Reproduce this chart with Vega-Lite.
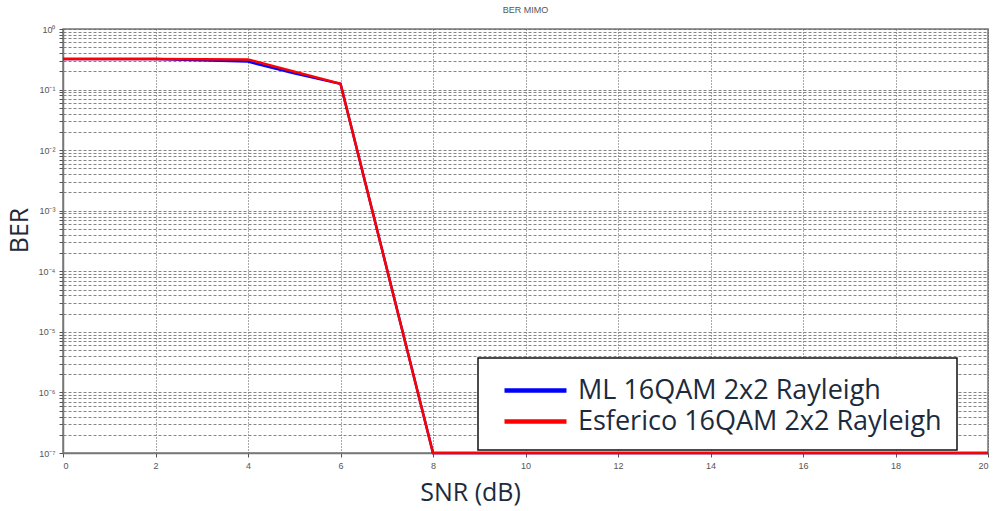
{
  "$schema": "https://vega.github.io/schema/vega-lite/v6.json",
  "width": 925,
  "height": 424,
  "autosize": {"type": "none"},
  "padding": {"left": 63, "top": 29, "right": 9, "bottom": 58},
  "background": "white",
  "title": {"text": "BER  MIMO", "fontSize": 9, "font": "Liberation Sans", "color": "#555", "fontWeight": "normal", "offset": 10},
  "config": {"view": {"stroke": "#777", "strokeWidth": 1.5}},
  "data": {"values": [
    {"series": "ML 16QAM 2x2 Rayleigh", "snr": 0, "ber": 0.32},
    {"series": "ML 16QAM 2x2 Rayleigh", "snr": 2, "ber": 0.32},
    {"series": "ML 16QAM 2x2 Rayleigh", "snr": 3, "ber": 0.305},
    {"series": "ML 16QAM 2x2 Rayleigh", "snr": 4, "ber": 0.29},
    {"series": "ML 16QAM 2x2 Rayleigh", "snr": 5, "ber": 0.185},
    {"series": "ML 16QAM 2x2 Rayleigh", "snr": 6, "ber": 0.125},
    {"series": "ML 16QAM 2x2 Rayleigh", "snr": 8, "ber": 1e-7},
    {"series": "ML 16QAM 2x2 Rayleigh", "snr": 10, "ber": 1e-7},
    {"series": "ML 16QAM 2x2 Rayleigh", "snr": 12, "ber": 1e-7},
    {"series": "ML 16QAM 2x2 Rayleigh", "snr": 14, "ber": 1e-7},
    {"series": "ML 16QAM 2x2 Rayleigh", "snr": 16, "ber": 1e-7},
    {"series": "ML 16QAM 2x2 Rayleigh", "snr": 18, "ber": 1e-7},
    {"series": "ML 16QAM 2x2 Rayleigh", "snr": 20, "ber": 1e-7},
    {"series": "Esferico 16QAM 2x2 Rayleigh", "snr": 0, "ber": 0.32},
    {"series": "Esferico 16QAM 2x2 Rayleigh", "snr": 2, "ber": 0.32},
    {"series": "Esferico 16QAM 2x2 Rayleigh", "snr": 4, "ber": 0.315},
    {"series": "Esferico 16QAM 2x2 Rayleigh", "snr": 6, "ber": 0.125},
    {"series": "Esferico 16QAM 2x2 Rayleigh", "snr": 8, "ber": 1e-7},
    {"series": "Esferico 16QAM 2x2 Rayleigh", "snr": 10, "ber": 1e-7},
    {"series": "Esferico 16QAM 2x2 Rayleigh", "snr": 12, "ber": 1e-7},
    {"series": "Esferico 16QAM 2x2 Rayleigh", "snr": 14, "ber": 1e-7},
    {"series": "Esferico 16QAM 2x2 Rayleigh", "snr": 16, "ber": 1e-7},
    {"series": "Esferico 16QAM 2x2 Rayleigh", "snr": 18, "ber": 1e-7},
    {"series": "Esferico 16QAM 2x2 Rayleigh", "snr": 20, "ber": 1e-7}
  ]},
  "mark": {"type": "line", "strokeWidth": 2.5, "clip": false},
  "encoding": {
    "x": {
      "field": "snr", "type": "quantitative",
      "scale": {"domain": [0, 20], "nice": false},
      "axis": {
        "title": "SNR (dB)", "titleFontSize": 25, "titleFont": "Open Sans", "titleFontWeight": "normal", "titleColor": "#1c2b3c",
        "titleX": 407, "titleY": 39, "titleAlign": "center", "titleBaseline": "middle",
        "values": [0, 2, 4, 6, 8, 10, 12, 14, 16, 18, 20],
        "labelFont": "Liberation Sans", "labelFontSize": 9, "labelColor": "#555", "labelPadding": 4,
        "tickSize": 4, "tickColor": "#555", "domainColor": "#777", "domainWidth": 1.5,
        "grid": true, "gridColor": "#555", "gridDash": [1, 2], "gridWidth": 1
      }
    },
    "y": {
      "field": "ber", "type": "quantitative",
      "scale": {"type": "log", "domain": [1e-7, 1], "nice": false},
      "axis": {
        "title": "BER", "titleFontSize": 25, "titleFont": "Open Sans", "titleFontWeight": "normal", "titleColor": "#1c2b3c",
        "titleX": -44, "titleY": 201, "titleAngle": -90, "titleAlign": "center", "titleBaseline": "middle",
        "values": [1e-7,2e-7,3e-7,4e-7,5e-7,6e-7,7e-7,8e-7,9e-7,1e-6,2e-6,3e-6,4e-6,5e-6,6e-6,7e-6,8e-6,9e-6,1e-5,2e-5,3e-5,4e-5,5e-5,6e-5,7e-5,8e-5,9e-5,1e-4,2e-4,3e-4,4e-4,5e-4,6e-4,7e-4,8e-4,9e-4,1e-3,2e-3,3e-3,4e-3,5e-3,6e-3,7e-3,8e-3,9e-3,1e-2,2e-2,3e-2,4e-2,5e-2,6e-2,7e-2,8e-2,9e-2,0.1,0.2,0.3,0.4,0.5,0.6,0.7,0.8,0.9,1],
        "labelExpr": "abs(log(datum.value)/LN10 - round(log(datum.value)/LN10)) < 1e-6 ? ['10⁰','10⁻¹','10⁻²','10⁻³','10⁻⁴','10⁻⁵','10⁻⁶','10⁻⁷'][-round(log(datum.value)/LN10)] : ''",
        "labelOverlap": false,
        "labelFont": "Liberation Sans", "labelFontSize": 9, "labelColor": "#555", "labelPadding": 4,
        "tickSize": 4, "tickColor": "#555", "domainColor": "#777", "domainWidth": 1.5,
        "grid": true, "gridColor": "#666", "gridDash": [3, 2], "gridWidth": 1, "gridOpacity": 0.8
      }
    },
    "color": {
      "field": "series", "type": "nominal",
      "sort": ["ML 16QAM 2x2 Rayleigh", "Esferico 16QAM 2x2 Rayleigh"],
      "scale": {"domain": ["ML 16QAM 2x2 Rayleigh", "Esferico 16QAM 2x2 Rayleigh"], "range": ["#0000ff", "#ff0000"]},
      "legend": {
        "title": null, "orient": "none", "legendX": 415, "legendY": 329,
        "direction": "vertical",
        "fillColor": "white", "strokeColor": "#111",
        "padding": 15, "rowPadding": 0,
        "labelFont": "Open Sans", "labelFontSize": 27, "labelColor": "#1c2b3c", "labelOffset": 50, "labelLimit": 600,
        "symbolType": "M-0.4,0H3.733", "symbolSize": 900, "symbolStrokeWidth": 4.5, "symbolFillColor": "transparent",
        "encode": {"legend": {"update": {"strokeWidth": {"value": 1.5}}}}
      }
    },
    "order": {"field": "series", "sort": "descending"}
  }
}
